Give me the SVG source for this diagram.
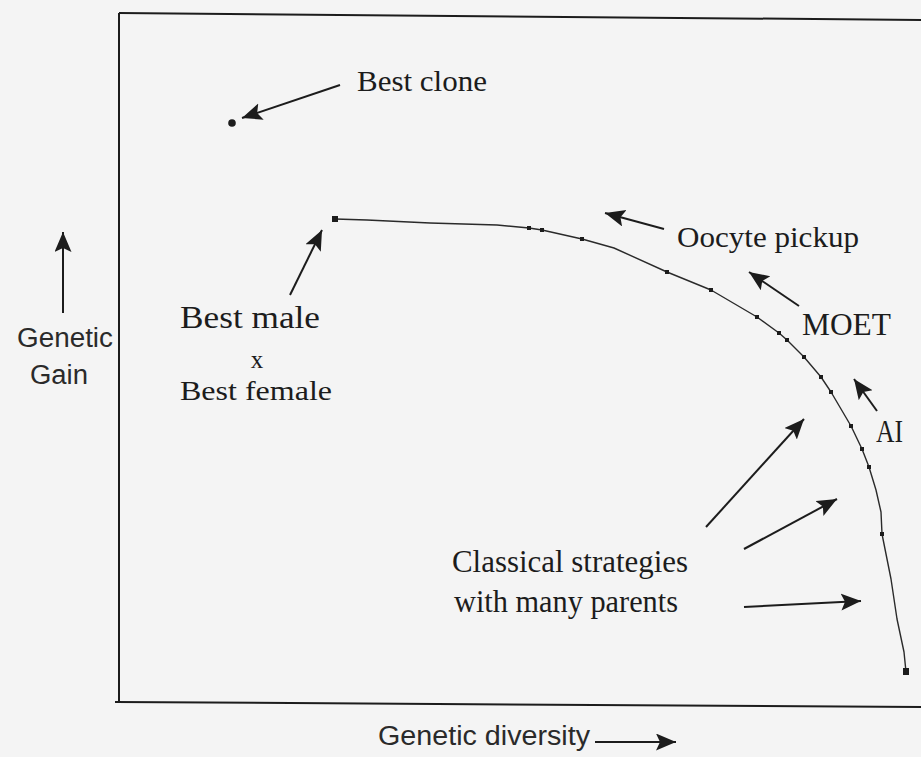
<svg xmlns="http://www.w3.org/2000/svg" width="921" height="757" viewBox="0 0 921 757">
  <defs>
    <marker id="ah" markerUnits="userSpaceOnUse" markerWidth="22" markerHeight="18" refX="20" refY="8.5" orient="auto">
      <path d="M0,0 L20,8.5 L0,17 L4,8.5 z" fill="#1c1c1c"/>
    </marker>
    <style>
      .serif { font-family: "Liberation Serif", "Times New Roman", serif; fill: #1c1c1c; }
      .sans { font-family: "Liberation Sans", Arial, sans-serif; fill: #2a2a2a; }
      .frame { fill: none; stroke: #1c1c1c; stroke-width: 2; }
      .arrow { fill: none; stroke: #1c1c1c; stroke-width: 2; marker-end: url(#ah); }
      .curve { fill: none; stroke: #2a2a2a; stroke-width: 1.4; stroke-linejoin: round; }
      .pt { fill: #1c1c1c; }
    </style>
  </defs>
  <rect x="0" y="0" width="921" height="757" fill="#f4f4f4"/>

  <g id="frame">
    <path class="frame" d="M921,20 L119,13" stroke-width="2.6"/>
    <path class="frame" d="M119,13 L119,702"/>
    <path class="frame" d="M115,702 L921,707"/>
  </g>

  <g id="curve">
    <polyline class="curve" points="335,219 367,220 430,223 497,225 529,228 542,230 582,239 614,248 667,272 711,290 757,317 779,333 787,340 804,357 821,377 831,392 851,426 862,449 869,467 876,490 881,512 882,534 891,579 897,619 904,652 906,672"/>
    <rect class="pt" x="332" y="216" width="6" height="6"/>
    <rect class="pt" x="527" y="226" width="4" height="4"/>
    <rect class="pt" x="540" y="228" width="4" height="4"/>
    <rect class="pt" x="580" y="237" width="4" height="4"/>
    <rect class="pt" x="665" y="270" width="4" height="4"/>
    <rect class="pt" x="709" y="288" width="4" height="4"/>
    <rect class="pt" x="755" y="315" width="4" height="4"/>
    <rect class="pt" x="777" y="331" width="4" height="4"/>
    <rect class="pt" x="785" y="338" width="4" height="4"/>
    <rect class="pt" x="802" y="355" width="4" height="4"/>
    <rect class="pt" x="819" y="375" width="4" height="4"/>
    <rect class="pt" x="829" y="390" width="4" height="4"/>
    <rect class="pt" x="849" y="424" width="4" height="4"/>
    <rect class="pt" x="860" y="447" width="4" height="4"/>
    <rect class="pt" x="867" y="465" width="4" height="4"/>
    <rect class="pt" x="880" y="532" width="4" height="4"/>
    <rect class="pt" x="903" y="668" width="6" height="7"/>
  </g>

  <g id="best-clone">
    <circle class="pt" cx="232" cy="123" r="3.8"/>
    <text class="serif" x="357" y="91" font-size="29" textLength="130" lengthAdjust="spacingAndGlyphs">Best clone</text>
  </g>
  <g id="oocyte-pickup">
    <text class="serif" x="677" y="247" font-size="29" textLength="182" lengthAdjust="spacingAndGlyphs">Oocyte pickup</text>
  </g>
  <g id="moet">
    <text class="serif" x="802" y="335" font-size="32" textLength="89" lengthAdjust="spacingAndGlyphs">MOET</text>
  </g>
  <g id="ai">
    <text class="serif" x="876" y="442" font-size="32" textLength="27" lengthAdjust="spacingAndGlyphs">AI</text>
  </g>
  <g id="best-male-female">
    <text class="serif" x="180" y="328" font-size="31" textLength="140" lengthAdjust="spacingAndGlyphs">Best male</text>
    <text class="serif" x="257" y="368" font-size="25" text-anchor="middle">x</text>
    <text class="serif" x="180" y="400" font-size="28" textLength="152" lengthAdjust="spacingAndGlyphs">Best female</text>
  </g>
  <g id="classical">
    <text class="serif" x="452" y="572" font-size="31" textLength="236" lengthAdjust="spacingAndGlyphs">Classical strategies</text>
    <text class="serif" x="454" y="612" font-size="31" textLength="224" lengthAdjust="spacingAndGlyphs">with many parents</text>
  </g>
  <g id="axis-y-label">
    <text class="sans" x="17" y="347" font-size="27" textLength="96" lengthAdjust="spacingAndGlyphs">Genetic</text>
    <text class="sans" x="30" y="384" font-size="27" textLength="58" lengthAdjust="spacingAndGlyphs">Gain</text>
  </g>
  <g id="axis-x-label">
    <text class="sans" x="378" y="745" font-size="27" textLength="212" lengthAdjust="spacingAndGlyphs">Genetic diversity</text>
  </g>

  <g id="connectors">
    <line class="arrow" x1="340" y1="85" x2="242" y2="118"/>
    <line class="arrow" x1="290" y1="295" x2="322" y2="230"/>
    <line class="arrow" x1="664" y1="229" x2="605" y2="213"/>
    <line class="arrow" x1="799" y1="306" x2="749" y2="272"/>
    <line class="arrow" x1="877" y1="411" x2="854" y2="379"/>
    <line class="arrow" x1="706" y1="527" x2="804" y2="419"/>
    <line class="arrow" x1="744" y1="549" x2="837" y2="499"/>
    <line class="arrow" x1="744" y1="607" x2="861" y2="601"/>
    <line class="arrow" x1="63" y1="313" x2="63" y2="232"/>
    <line class="arrow" x1="595" y1="742" x2="676" y2="742"/>
  </g>
</svg>
